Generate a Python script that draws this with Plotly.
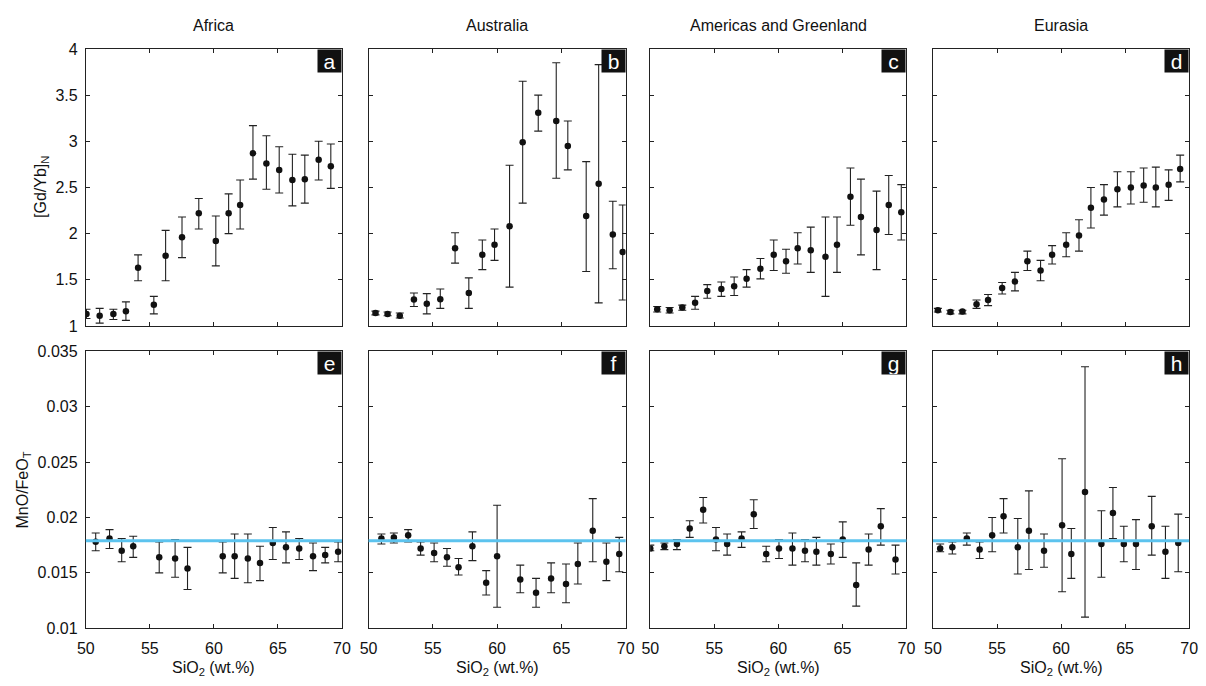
import plotly.graph_objects as go

# ---------------- data ----------------
regions = ["Africa", "Australia", "Americas and Greenland", "Eurasia"]
letters = ["a", "b", "c", "d", "e", "f", "g", "h"]

# [Gd/Yb]N  (top row)
a_x = [50.05, 51.08, 52.15, 53.13, 54.08, 55.31, 56.23, 57.51, 58.82, 60.15, 61.15, 62.05, 63.05, 64.1, 65.1, 66.13, 67.1, 68.18, 69.13]
a_y = [1.13, 1.11, 1.13, 1.16, 1.63, 1.23, 1.76, 1.96, 2.22, 1.92, 2.22, 2.31, 2.87, 2.76, 2.69, 2.58, 2.59, 2.80, 2.73]
a_hi = [1.18, 1.19, 1.18, 1.26, 1.77, 1.32, 2.035, 2.18, 2.38, 2.19, 2.43, 2.58, 3.17, 3.06, 2.94, 2.86, 2.85, 3.00, 2.97]
a_lo = [1.08, 1.03, 1.07, 1.06, 1.49, 1.13, 1.49, 1.74, 2.05, 1.65, 2.00, 2.05, 2.59, 2.48, 2.44, 2.30, 2.33, 2.58, 2.49]

b_x = [50.54, 51.48, 52.43, 53.53, 54.53, 55.58, 56.73, 57.8, 58.85, 59.8, 60.97, 61.99, 63.2, 64.6, 65.5, 66.93, 67.9, 69.0, 69.77]
b_y = [1.14, 1.13, 1.11, 1.285, 1.24, 1.29, 1.84, 1.356, 1.77, 1.88, 2.08, 2.99, 3.31, 3.22, 2.95, 2.19, 2.54, 1.99, 1.80]
b_hi = [1.16, 1.15, 1.14, 1.356, 1.35, 1.40, 2.01, 1.52, 1.93, 2.05, 2.74, 3.65, 3.50, 3.85, 3.22, 2.78, 3.83, 2.35, 2.31]
b_lo = [1.12, 1.11, 1.085, 1.21, 1.13, 1.19, 1.68, 1.19, 1.61, 1.71, 1.42, 2.33, 3.11, 2.60, 2.69, 1.59, 1.25, 1.62, 1.28]

c_x = [50.54, 51.51, 52.5, 53.5, 54.45, 55.55, 56.55, 57.52, 58.6, 59.64, 60.6, 61.51, 62.53, 63.68, 64.58, 65.63, 66.45, 67.67, 68.62, 69.6]
c_y = [1.18, 1.17, 1.20, 1.25, 1.377, 1.40, 1.43, 1.51, 1.62, 1.77, 1.70, 1.84, 1.82, 1.75, 1.88, 2.40, 2.18, 2.04, 2.31, 2.23]
c_hi = [1.21, 1.20, 1.225, 1.32, 1.447, 1.475, 1.53, 1.61, 1.73, 1.93, 1.83, 2.01, 2.07, 2.18, 2.18, 2.71, 2.59, 2.46, 2.63, 2.53]
c_lo = [1.15, 1.14, 1.17, 1.18, 1.30, 1.32, 1.33, 1.42, 1.51, 1.60, 1.57, 1.67, 1.58, 1.32, 1.58, 2.09, 1.77, 1.61, 1.99, 1.93]

d_x = [50.38, 51.36, 52.3, 53.4, 54.3, 55.4, 56.4, 57.37, 58.4, 59.3, 60.4, 61.4, 62.33, 63.35, 64.4, 65.45, 66.45, 67.4, 68.4, 69.3]
d_y = [1.17, 1.15, 1.155, 1.236, 1.28, 1.41, 1.48, 1.70, 1.60, 1.77, 1.88, 1.98, 2.28, 2.37, 2.48, 2.50, 2.52, 2.50, 2.53, 2.70]
d_hi = [1.19, 1.17, 1.17, 1.28, 1.34, 1.47, 1.58, 1.81, 1.71, 1.87, 2.01, 2.15, 2.50, 2.53, 2.67, 2.67, 2.71, 2.72, 2.69, 2.85]
d_lo = [1.15, 1.13, 1.13, 1.19, 1.22, 1.345, 1.38, 1.60, 1.49, 1.67, 1.75, 1.81, 2.06, 2.20, 2.29, 2.32, 2.34, 2.29, 2.36, 2.56]

# MnO/FeOT  (bottom row)
e_x = [50.77, 51.85, 52.8, 53.7, 55.73, 56.97, 57.94, 60.69, 61.62, 62.65, 63.6, 64.6, 65.63, 66.66, 67.74, 68.69, 69.7]
e_y = [0.0178, 0.0181, 0.0170, 0.0174, 0.0164, 0.0163, 0.0154, 0.0165, 0.0165, 0.0163, 0.0159, 0.0177, 0.0173, 0.0172, 0.0165, 0.0166, 0.0169]
e_hi = [0.0186, 0.0189, 0.0181, 0.0183, 0.0178, 0.0180, 0.0173, 0.0178, 0.0185, 0.0185, 0.0174, 0.0191, 0.0187, 0.0181, 0.0177, 0.0173, 0.0178]
e_lo = [0.0170, 0.0172, 0.0160, 0.0164, 0.0150, 0.0146, 0.0135, 0.0150, 0.0145, 0.0141, 0.0143, 0.0162, 0.0159, 0.0162, 0.0152, 0.0159, 0.0160]

f_x = [51.0, 51.97, 53.08, 54.05, 55.1, 56.1, 57.0, 58.08, 59.15, 60.0, 61.8, 63.03, 64.2, 65.36, 66.28, 67.44, 68.5, 69.5]
f_y = [0.0181, 0.0182, 0.0184, 0.0172, 0.0168, 0.0164, 0.0155, 0.0174, 0.0141, 0.0165, 0.0144, 0.0132, 0.0145, 0.0140, 0.0158, 0.0188, 0.0160, 0.0167]
f_hi = [0.0185, 0.0186, 0.0189, 0.0178, 0.0177, 0.0172, 0.0163, 0.0187, 0.0152, 0.0211, 0.0157, 0.0145, 0.0159, 0.0158, 0.0177, 0.0217, 0.0177, 0.0182]
f_lo = [0.0176, 0.0177, 0.0178, 0.0166, 0.0160, 0.0156, 0.0148, 0.0161, 0.0130, 0.0119, 0.0132, 0.0119, 0.0132, 0.0123, 0.0140, 0.0160, 0.0143, 0.0151]

g_x = [50.0, 51.1, 52.08, 53.08, 54.13, 55.13, 56.0, 57.13, 58.08, 59.05, 60.05, 61.1, 62.08, 62.97, 64.1, 65.03, 66.08, 67.05, 68.0, 69.15]
g_y = [0.0172, 0.0174, 0.0176, 0.0190, 0.0207, 0.0180, 0.0176, 0.0181, 0.0203, 0.0167, 0.0172, 0.0172, 0.0170, 0.0169, 0.0167, 0.0180, 0.0139, 0.0171, 0.0192, 0.0162]
g_hi = [0.0175, 0.0177, 0.0180, 0.0197, 0.0218, 0.0191, 0.0185, 0.0187, 0.0216, 0.0174, 0.0180, 0.0186, 0.0180, 0.0182, 0.0176, 0.0196, 0.0159, 0.0185, 0.0208, 0.0175]
g_lo = [0.0170, 0.0171, 0.0171, 0.0182, 0.0195, 0.0170, 0.0166, 0.0173, 0.0190, 0.0160, 0.0163, 0.0157, 0.0160, 0.0157, 0.0158, 0.0164, 0.0120, 0.0157, 0.0175, 0.0149]

h_x = [50.56, 51.51, 52.64, 53.64, 54.62, 55.51, 56.62, 57.49, 58.67, 60.08, 60.8, 61.87, 63.15, 64.05, 64.9, 65.85, 67.08, 68.15, 69.15]
h_y = [0.0172, 0.0173, 0.0181, 0.0171, 0.0184, 0.0201, 0.0173, 0.0188, 0.0170, 0.0193, 0.0167, 0.0223, 0.0176, 0.0204, 0.0176, 0.0176, 0.0192, 0.0169, 0.0177]
h_hi = [0.0176, 0.0178, 0.0186, 0.0178, 0.0200, 0.0217, 0.0199, 0.0224, 0.0185, 0.0253, 0.0190, 0.0336, 0.0206, 0.0227, 0.0192, 0.0198, 0.0219, 0.0192, 0.0203]
h_lo = [0.0169, 0.0167, 0.0175, 0.0163, 0.0169, 0.0186, 0.0149, 0.0153, 0.0155, 0.0133, 0.0145, 0.0110, 0.0146, 0.0181, 0.0160, 0.0153, 0.0166, 0.0145, 0.0151]

mantle_ref = 0.0179  # horizontal reference line in MnO/FeOT panels

x_ticks = [50, 55, 60, 65, 70]
top_ticks = [1, 1.5, 2, 2.5, 3, 3.5, 4]
top_ticklabels = ["1", "1.5", "2", "2.5", "3", "3.5", "4"]
bot_ticks = [0.01, 0.015, 0.02, 0.025, 0.03, 0.035]
bot_ticklabels = ["0.01", "0.015", "0.02", "0.025", "0.03", "0.035"]

panels = [
    (a_x, a_y, a_hi, a_lo), (b_x, b_y, b_hi, b_lo), (c_x, c_y, c_hi, c_lo), (d_x, d_y, d_hi, d_lo),
    (e_x, e_y, e_hi, e_lo), (f_x, f_y, f_hi, f_lo), (g_x, g_y, g_hi, g_lo), (h_x, h_y, h_hi, h_lo),
]

# ---------------- layout geometry ----------------
W, H = 1206, 686
col_px = [(78, 338), (365, 626), (651, 911), (938, 1198)]
row_px = [(42, 326), (352, 636)]
FONT = "Liberation Sans, Arial, Helvetica, sans-serif"
FS = 16

fig = go.Figure()
layout = dict(
    width=W, height=H, margin=dict(l=0, r=0, t=0, b=0),
    paper_bgcolor="white", plot_bgcolor="white", showlegend=False,
    font=dict(family=FONT, size=FS, color="#111"),
)
annotations = []
shapes = []

for i, (px, py, phi, plo) in enumerate(panels):
    row, col = divmod(i, 4)
    n = i + 1
    xa = "x" if n == 1 else f"x{n}"
    ya = "y" if n == 1 else f"y{n}"
    err_plus = [h - v for h, v in zip(phi, py)]
    err_minus = [v - l for v, l in zip(py, plo)]
    fig.add_trace(go.Scatter(
        x=px, y=py, mode="markers", xaxis=xa, yaxis=ya,
        marker=dict(color="#111", size=6.5),
        error_y=dict(type="data", symmetric=False, array=err_plus, arrayminus=err_minus,
                     color="#222", thickness=1.1, width=4),
        hoverinfo="x+y",
    ))
    x0, x1 = col_px[col]
    y0, y1 = row_px[row]
    xdom = [x0 / W, x1 / W]
    ydom = [1 - y1 / H, 1 - y0 / H]
    axis_common = dict(showline=True, linecolor="#222", linewidth=1, mirror="allticks",
                       ticks="inside", ticklen=4, tickcolor="#222", showgrid=False,
                       zeroline=False, tickfont=dict(size=FS, color="#111", family=FONT))
    layout["xaxis" if n == 1 else f"xaxis{n}"] = dict(
        domain=xdom, range=[50, 70], tickvals=x_ticks, ticktext=[str(t) for t in x_ticks],
        showticklabels=(row == 1), anchor=ya, ticklabelstandoff=6, **axis_common)
    if row == 0:
        yr, tv, tt = [1, 4], top_ticks, top_ticklabels
    else:
        yr, tv, tt = [0.01, 0.035], bot_ticks, bot_ticklabels
    layout["yaxis" if n == 1 else f"yaxis{n}"] = dict(
        domain=ydom, range=yr, tickvals=tv, ticktext=tt,
        showticklabels=(col == 0), anchor=xa, ticklabelstandoff=4, **axis_common)

    # panel letter box
    annotations.append(dict(
        text=letters[i], xref=f"{xa} domain", yref=f"{ya} domain", x=1, y=1,
        xanchor="right", yanchor="top", showarrow=False, bgcolor="#111",
        width=23, height=22, borderpad=0,
        font=dict(color="white", size=21, family=FONT)))

    if row == 1:
        shapes.append(dict(type="line", xref=f"{xa} domain", yref=ya, x0=0, x1=1,
                           y0=mantle_ref, y1=mantle_ref,
                           line=dict(color="#5cc3ee", width=3), layer="above"))
        annotations.append(dict(
            text="SiO<sub>2</sub> (wt.%)", xref="paper", yref="paper",
            x=(x0 + x1) / 2 / W, y=1 - 677 / H, xanchor="center", yanchor="middle",
            showarrow=False, font=dict(size=FS, color="#111", family=FONT)))
    else:
        annotations.append(dict(
            text=regions[col], xref="paper", yref="paper",
            x=(x0 + x1) / 2 / W, y=1 - 18 / H, xanchor="center", yanchor="middle",
            showarrow=False, font=dict(size=FS, color="#111", family=FONT)))

annotations.append(dict(text="[Gd/Yb]<sub>N</sub>", xref="paper", yref="paper",
                        x=33 / W, y=1 - 184 / H, textangle=-90, showarrow=False,
                        xanchor="center", yanchor="middle",
                        font=dict(size=FS, color="#111", family=FONT)))
annotations.append(dict(text="MnO/FeO<sub>T</sub>", xref="paper", yref="paper",
                        x=15 / W, y=1 - 494 / H, textangle=-90, showarrow=False,
                        xanchor="center", yanchor="middle",
                        font=dict(size=FS, color="#111", family=FONT)))

layout["annotations"] = annotations
layout["shapes"] = shapes
fig.update_layout(**layout)
fig.write_html("out.html")
